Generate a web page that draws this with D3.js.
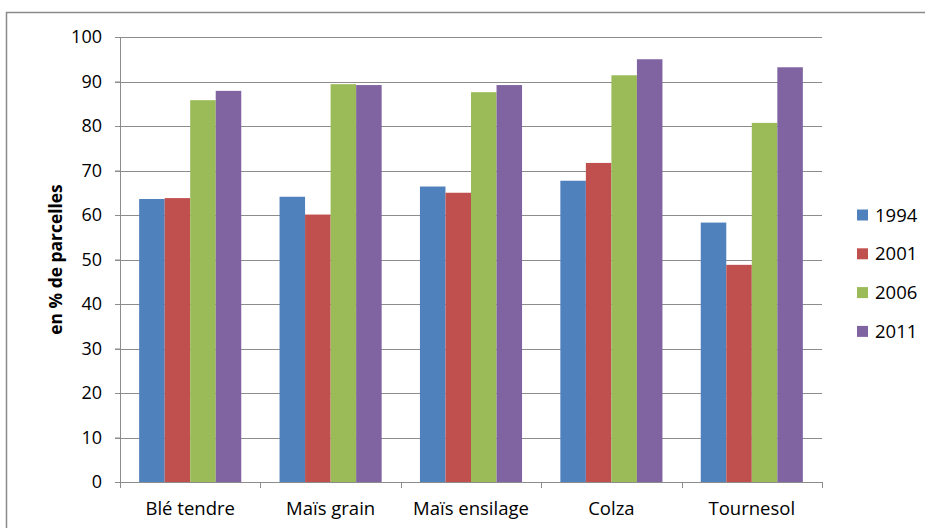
<!DOCTYPE html>
<html><head><meta charset="utf-8">
<script src="https://cdn.jsdelivr.net/npm/d3@7"></script>
<style>body{margin:0;background:#fff;} svg{display:block;}</style>
</head><body>
<svg id="chart" width="925" height="528"></svg>
<script>
const categories = ["Blé tendre", "Maïs grain", "Maïs ensilage", "Colza", "Tournesol"];
const seriesNames = ["1994", "2001", "2006", "2011"];
const values1994 = [63.6, 64.1, 66.4, 67.7, 58.3];
const values2001 = [63.8, 60.1, 65.0, 71.7, 48.8];
const values2006 = [85.8, 89.4, 87.6, 91.4, 80.7];
const values2011 = [87.9, 89.2, 89.2, 95.0, 93.2];
const yTicks = [0, 10, 20, 30, 40, 50, 60, 70, 80, 90, 100];
const colors = ["#4F81BD", "#C0504D", "#9BBB59", "#8064A2"];
const yTitle = "en % de parcelles";

(function () {
const series = [values1994, values2001, values2006, values2011];
const svg = d3.select("#chart");
const font = "'Open Sans', sans-serif";

svg.append("rect").attr("x", 6.5).attr("y", 12.5).attr("width", 930).attr("height", 530)
  .attr("fill", "none").attr("stroke", "#8a8a8a").attr("stroke-width", 1.5);

const mLeft = 120, mRight = 822, mTop = 37, mBottom = 482;
const x = d3.scaleBand().domain(categories).range([mLeft, mRight]).paddingInner(0).paddingOuter(0);
const y = d3.scaleLinear().domain([0, 100]).range([mBottom, mTop]);
const barW = x.bandwidth() / 5.5;
const xs = d3.scaleBand().domain(seriesNames).range([0, barW * 4]);

// gridlines
svg.append("g").selectAll("line").data(yTicks.filter(t => t > 0)).join("line")
  .attr("x1", mLeft - 5).attr("x2", mRight)
  .attr("y1", d => Math.round(y(d)) + 0.5).attr("y2", d => Math.round(y(d)) + 0.5)
  .attr("stroke", "#8c8c8c").attr("stroke-width", 1);

// bars
const groups = svg.append("g").selectAll("g").data(series).join("g")
  .attr("fill", (d, i) => colors[i]);
groups.each(function (vals, si) {
  d3.select(this).selectAll("rect").data(vals).join("rect")
    .attr("x", (d, ci) => x(categories[ci]) + (x.bandwidth() - barW * 4) / 2 + xs(seriesNames[si]))
    .attr("width", barW)
    .attr("y", d => y(d))
    .attr("height", d => y(0) - y(d));
});

// y axis
const yAxis = svg.append("g").attr("transform", `translate(${mLeft},0)`)
  .call(d3.axisLeft(y).tickValues(yTicks).tickSize(5).tickPadding(13).tickFormat(d3.format("d")));
yAxis.select(".domain").attr("stroke", "#8c8c8c");
yAxis.selectAll(".tick line").attr("stroke", "#8c8c8c");
yAxis.selectAll("text").attr("font-family", font).attr("font-size", 18).attr("fill", "#000");

// x axis
const xAxis = svg.append("g").attr("transform", `translate(0,${mBottom})`)
  .call(d3.axisBottom(x).tickSize(0).tickPadding(20));
xAxis.select(".domain").attr("stroke", "#8c8c8c");
xAxis.selectAll("text").attr("font-family", font).attr("font-size", 18.5).attr("fill", "#000");
svg.append("g").selectAll("line").data(d3.range(categories.length + 1)).join("line")
  .attr("x1", i => Math.round(mLeft + i * x.step()) + 0.5).attr("x2", i => Math.round(mLeft + i * x.step()) + 0.5)
  .attr("y1", mBottom).attr("y2", mBottom + 6).attr("stroke", "#8c8c8c");

// y title
svg.append("text").attr("transform", `translate(62,${(mTop + mBottom) / 2}) rotate(-90)`)
  .attr("text-anchor", "middle").attr("font-family", font).attr("font-weight", "bold")
  .attr("font-size", 17.4).text(yTitle);

// legend
const leg = svg.append("g").selectAll("g").data(seriesNames).join("g")
  .attr("transform", (d, i) => `translate(857,${215 + i * 38.8})`);
leg.append("rect").attr("x", 0).attr("y", -5.5).attr("width", 11).attr("height", 11)
  .attr("fill", (d, i) => colors[i]);
leg.append("text").attr("x", 18).attr("dy", "0.36em").attr("font-family", font)
  .attr("font-size", 18.5).text(d => d);
})();
</script>
</body></html>
